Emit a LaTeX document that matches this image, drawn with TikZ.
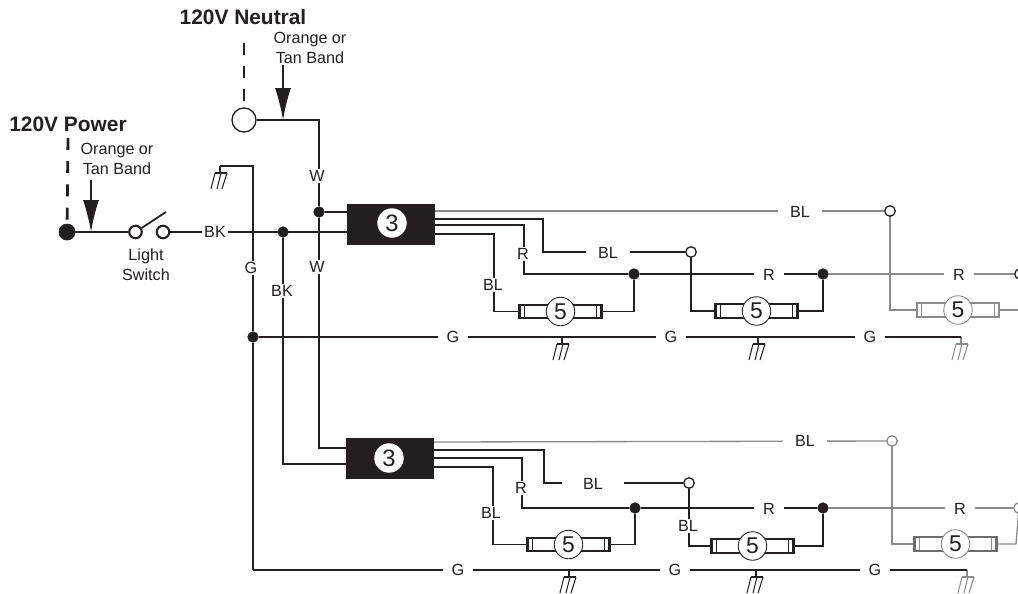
\documentclass[tikz,border=0pt]{standalone}
\usepackage{fontspec}
\setmainfont{Liberation Sans}
\usetikzlibrary{arrows.meta,calc}
\definecolor{ink}{HTML}{231F20}
\definecolor{fade}{HTML}{8A8A8A}
\tikzset{
    wire/.style={line width=0.75pt,draw=ink,line join=miter},
    fadewire/.style={wire,draw=fade},
    ctrlbox/.style={fill=ink,draw=ink,minimum width=1.74cm,minimum height=0.8cm,inner sep=0pt},
    number/.style={circle,draw=ink,fill=white,line width=0.5pt,minimum size=0.57cm,inner sep=0pt,text=ink,font=\fontsize{13}{13}\selectfont},
    tube/.style={draw=#1,fill=white,line width=1.3pt,minimum width=1.64cm,minimum height=0.27cm,inner sep=0pt},
    dot/.style={circle,fill=ink,draw=ink,minimum size=0.21cm,inner sep=0pt},
    opendot/.style={circle,fill=white,draw=ink,line width=0.75pt,minimum size=0.21cm,inner sep=0pt},
    contact/.style={circle,draw=ink,line width=1.2pt,fill=white,minimum size=0.25cm,inner sep=0pt},
    wirelabel/.style={fill=white,text=ink,inner xsep=2pt,inner ysep=1pt,font=\fontsize{9.2}{9.2}\selectfont},
    note/.style={text=ink,align=center,font=\fontsize{9.2}{11.4}\selectfont,inner sep=0pt},
    heading/.style={text=ink,inner sep=0pt,font=\fontsize{11.9}{12}\selectfont\bfseries},
    feed/.style={line width=1.6pt,draw=ink,dash pattern=on 6.8pt off 6.4pt},
    band/.style={wire,-{Latex[length=0.64cm,width=0.32cm]}}
}
% lamp: name, x, y, colour, colour of the circle
\newcommand{\lamp}[5]{
    \node[tube=#4] (#1) at (#2,#3) {};
    \draw[#5,line width=0.5pt] ($(#1.west)+(6,-6)$) -- ($(#1.west)+(6,6)$);
    \draw[#5,line width=0.5pt] ($(#1.east)+(-6,-6)$) -- ($(#1.east)+(-6,6)$);
    \node[number,draw=#5] (#1num) at (#2,#3) {5};
}
% ground: name, x, y, colour
\newcommand{\groundmark}[4]{
    \coordinate (#1) at (#2,#3);
    \begin{scope}[shift={(#2,#3)},draw=#4,line width=0.6pt]
        \draw (0,0) -- (0,7);
        \draw (-5,7) -- (7,7);
        \draw (-5,7) -- (-9,23);
        \draw (1,7) -- (-3,23);
        \draw (7,7) -- (2,23);
    \end{scope}
}
\begin{document}
\begin{tikzpicture}[x=0.02cm,y=-0.02cm]
    \clip (0,0) rectangle (1018,593);
    \useasboundingbox (0,0) rectangle (1018,593);

    % feeds
    \node[heading] (powerhead) at (68,124) {120V Power};
    \node[heading] (neutralhead) at (243,17) {120V Neutral};
    \node[circle,fill=ink,draw=ink,minimum size=0.32cm,inner sep=0pt] (power) at (67,232) {};
    \node[circle,fill=white,draw=ink,line width=0.75pt,minimum size=0.48cm,inner sep=0pt] (neutral) at (244,120) {};
    \coordinate (powertop) at (68,138);
    \coordinate (neutraltop) at (244,43);
    \draw[feed] (powertop) -- (power);
    \draw[feed] (neutraltop) -- (neutral);
    \node[note] (powerband) at (117,159) {Orange or\\Tan Band};
    \node[note] (neutralband) at (310,48) {Orange or\\Tan Band};

    % switch
    \node[contact] (swa) at (135.5,232) {};
    \node[contact] (swb) at (163,232) {};
    \coordinate (swlever) at (166,212);
    \draw[wire,line width=1pt] (swa) -- (swlever);
    \node[note] (swlabel) at (146,265) {Light\\Switch};

    % control boxes
    \node[ctrlbox] (boxa) at (391,224) {};
    \node[number,draw=white,font=\fontsize{13.5}{13.5}\selectfont] (numa) at (392,223) {3};
    \node[ctrlbox] (boxb) at (390,458.5) {};
    \node[number,draw=white,font=\fontsize{13.5}{13.5}\selectfont] (numb) at (389,458) {3};

    % junctions
    \node[dot] (jw) at (319,212) {};
    \node[dot] (jbk) at (283,232) {};
    \node[dot] (jg) at (253,337) {};
    \node[dot] (jra) at (634,274) {};
    \node[dot] (jrb) at (823,274) {};
    \node[dot] (jrc) at (635,508) {};
    \node[dot] (jrd) at (823,508) {};
    \node[opendot] (oa) at (691,252) {};
    \node[opendot] (ob) at (890,211) {};
    \node[opendot] (oc) at (1020,274) {};
    \node[opendot] (od) at (689,483) {};
    \node[opendot,draw=fade] (oe) at (892,441) {};
    \node[opendot,draw=fade] (of) at (1019,508) {};

    % lamps
    \lamp{lampa}{560.5}{311.5}{ink}{ink}
    \lamp{lampb}{756.5}{311}{ink}{ink}
    \lamp{lampc}{958}{310}{fade}{fade}
    \lamp{lampd}{568.5}{544.5}{ink}{ink}
    \lamp{lampe}{752.5}{546}{ink}{ink}
    \lamp{lampf}{955.5}{544}{fade!80!black}{fade}

    % grounds
    \groundmark{gnda}{220}{166}{ink}
    \groundmark{gndb}{562}{337}{ink}
    \groundmark{gndc}{758}{337}{ink}
    \groundmark{gndd}{961}{337}{fade}
    \groundmark{gnde}{569}{570}{ink}
    \groundmark{gndf}{756}{570}{ink}
    \groundmark{gndg}{967}{570}{fade}

    % points on the sides of the boxes and the wire bends
    \coordinate (aout) at (435,211);
    \coordinate (bout) at (435,219);
    \coordinate (cout) at (435,225);
    \coordinate (dout) at (435,234);
    \coordinate (ain) at (348,212);
    \coordinate (bin) at (348,232);
    \coordinate (eout) at (434,442);
    \coordinate (fout) at (434,450);
    \coordinate (gout) at (434,458);
    \coordinate (hout) at (434,467);
    \coordinate (cin) at (346,448);
    \coordinate (din) at (346,464);
    \coordinate (neutralwire) at (319,120);
    \coordinate (bendb) at (543,252);
    \coordinate (bendc) at (524,274);
    \coordinate (bendd) at (494,311.5);
    \coordinate (bendf) at (544,483);
    \coordinate (bendg) at (522,508);
    \coordinate (bendh) at (493,544.5);
    \coordinate (gtop) at (253,166);
    \coordinate (gbottom) at (253,570);
    \coordinate (lampcout) at (1018,310);
    \coordinate (lampfbend) at (1016,544);
    \coordinate (bandneutraltop) at (283,65);
    \coordinate (bandneutraltip) at (283,120);
    \coordinate (bandpowertop) at (91,180);
    \coordinate (bandpowertip) at (91,232);

    % feed wires
    \draw[wire] (power) -- (swa);
    \draw[wire] (swb) -- (bin);
    \draw[wire] (neutral) -- (neutralwire) -- (jw);
    \draw[wire] (jw) -- (ain);
    \draw[wire] (jw) |- (cin);
    \draw[wire] (jbk) |- (din);
    \draw[wire] (gnda) -- (gtop) -- (jg);
    \draw[wire] (jg) -- (gbottom);
    \draw[wire] (jg) -- (gndb) -- (gndc);
    \draw[wire] (gndc) -- (gndd);
    \draw[wire] (gbottom) -- (gnde) -- (gndf);
    \draw[wire] (gndf) -- (gndg);
    \draw[band] (bandneutraltop) -- (bandneutraltip);
    \draw[band] (bandpowertop) -- (bandpowertip);

    % upper row
    \draw[fadewire] (aout) -- (ob);
    \draw[wire] (bout) -| (bendb) -- (oa);
    \draw[wire] (cout) -| (bendc) -- (jra);
    \draw[wire] (jra) -- (jrb);
    \draw[fadewire] (jrb) -- (oc);
    \draw[wire] (dout) -| (bendd) -- (lampa.west);
    \draw[wire] (lampa.east) -| (jra);
    \draw[wire] (oa) |- (lampb.west);
    \draw[wire] (lampb.east) -| (jrb);
    \draw[fadewire] (ob) |- (lampc.west);
    \draw[fadewire] (lampc.east) -- (lampcout);

    % lower row
    \draw[fadewire] (eout) -- (oe);
    \draw[wire] (fout) -| (bendf) -- (od);
    \draw[wire] (gout) -| (bendg) -- (jrc);
    \draw[wire] (jrc) -- (jrd);
    \draw[fadewire] (jrd) -- (of);
    \draw[wire] (hout) -| (bendh) -- (lampd.west);
    \draw[wire] (lampd.east) -| (jrc);
    \draw[wire] (od) |- (lampe.west);
    \draw[wire] (lampe.east) -| (jrd);
    \draw[fadewire] (oe) |- (lampf.west);
    \draw[fadewire] (lampf.east) -| (lampfbend) -- (of);

    % labels on the wires
    \node[wirelabel,inner xsep=1pt] (lbk) at (215,232) {BK};
    \node[wirelabel] (lwa) at (317,176) {W};
    \node[wirelabel] (lwb) at (317,267) {W};
    \node[wirelabel] (lg) at (251,268) {G};
    \node[wirelabel] (lbkb) at (282,291) {BK};
    \node[wirelabel,inner xsep=7pt] (lbla) at (800,212) {BL};
    \node[wirelabel,inner xsep=7pt] (lblb) at (608,253) {BL};
    \node[wirelabel] (lra) at (523,254) {R};
    \node[wirelabel] (lblc) at (493,285) {BL};
    \node[wirelabel,inner xsep=5pt] (lrb) at (769,275) {R};
    \node[wirelabel,inner xsep=5pt] (lrc) at (959,275) {R};
    \node[wirelabel,inner xsep=5pt] (lga) at (453,337) {G};
    \node[wirelabel,inner xsep=5pt] (lgb) at (671,337) {G};
    \node[wirelabel,inner xsep=5pt] (lgc) at (870,337) {G};
    \node[wirelabel,inner xsep=7pt] (lbld) at (805,441) {BL};
    \node[wirelabel,inner xsep=12pt] (lble) at (593,484) {BL};
    \node[wirelabel] (lrd) at (521,488) {R};
    \node[wirelabel] (lblf) at (491,513) {BL};
    \node[wirelabel] (lblg) at (688,526) {BL};
    \node[wirelabel,inner xsep=5pt] (lre) at (769,509) {R};
    \node[wirelabel,inner xsep=5pt] (lrf) at (960,509) {R};
    \node[wirelabel,inner xsep=5pt] (lgd) at (458,570) {G};
    \node[wirelabel,inner xsep=5pt] (lge) at (675,570) {G};
    \node[wirelabel,inner xsep=5pt] (lgf) at (875,570) {G};
\end{tikzpicture}
\end{document}
